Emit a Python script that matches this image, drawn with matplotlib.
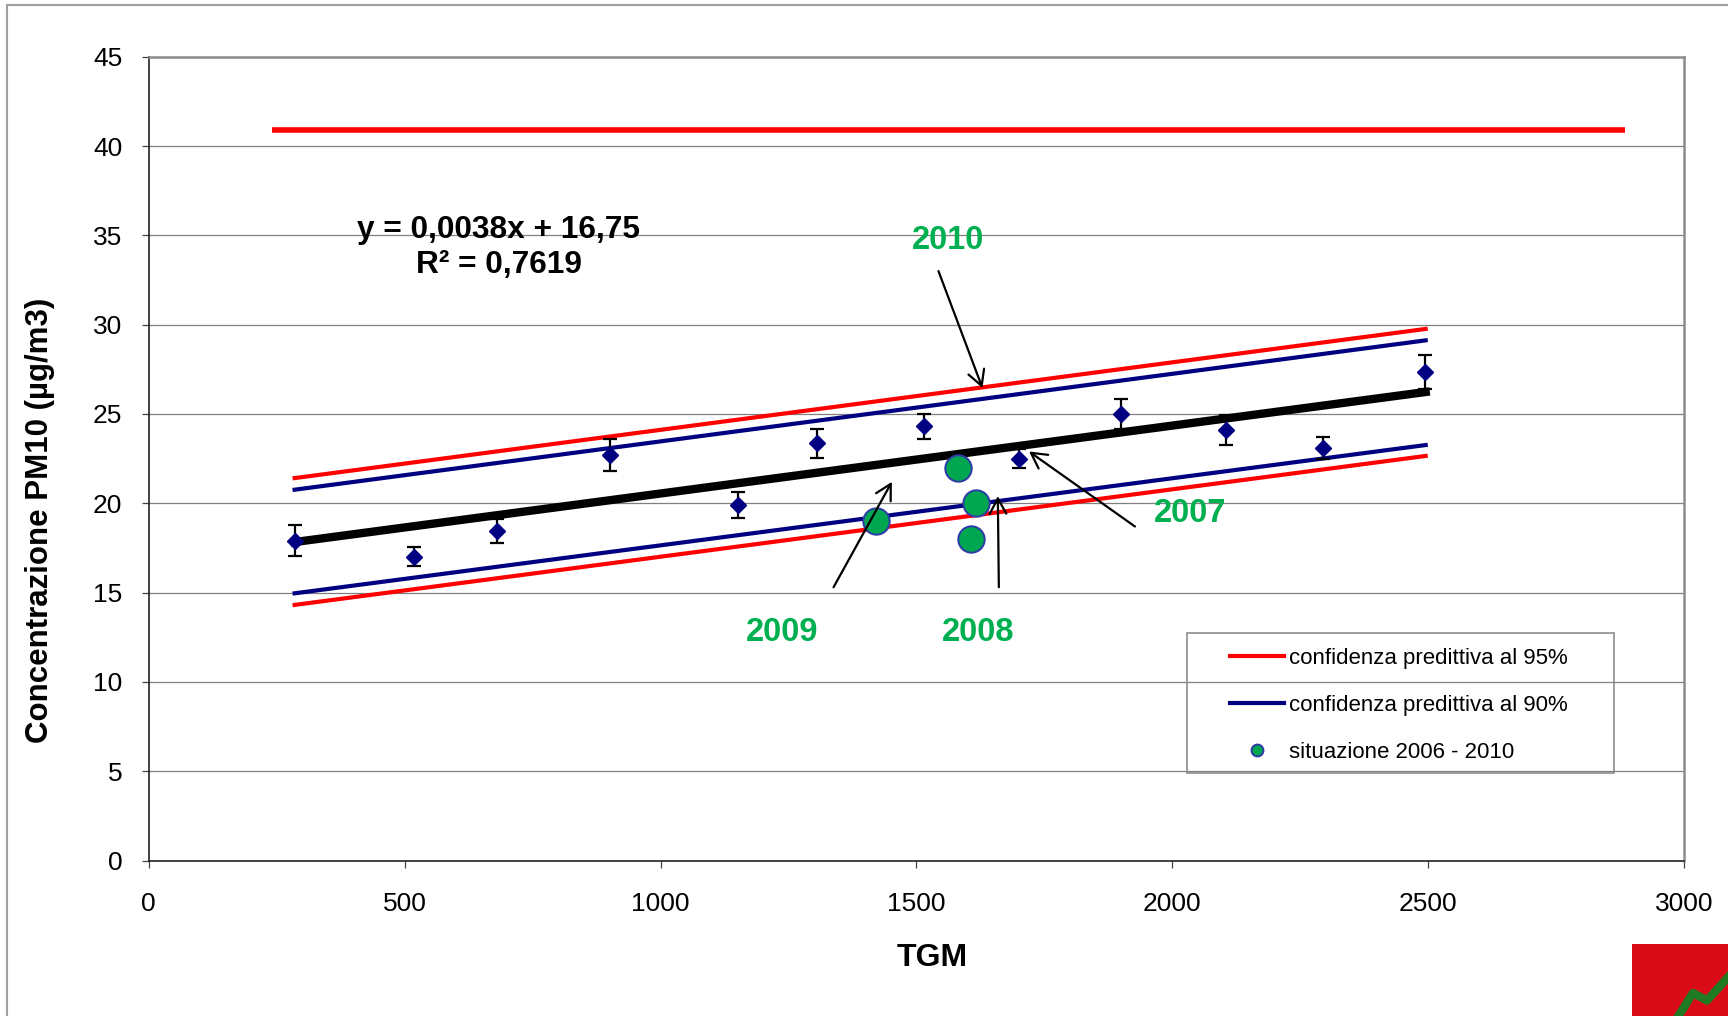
import matplotlib

matplotlib.use("Agg")

import matplotlib.pyplot as plt
from matplotlib.lines import Line2D
from matplotlib.patches import Rectangle

plt.rcParams["font.family"] = ["Liberation Sans", "DejaVu Sans"]

# measured PM10 vs TGM (diamonds with error bars)
tgm = [285, 518, 680, 901, 1152, 1305, 1515, 1701, 1900, 2104, 2294, 2493]
pm10 = [17.9, 17.0, 18.45, 22.7, 19.9, 23.35, 24.3, 22.5, 25.0, 24.1, 23.1, 27.35]
pm10_err = [0.86, 0.53, 0.68, 0.88, 0.72, 0.8, 0.7, 0.54, 0.86, 0.84, 0.6, 0.97]

# regression line and prediction bands (end points)
band_x = [285, 2495]
trend_y = [17.83, 26.23]
upper_95 = [21.41, 29.76]
upper_90 = [20.76, 29.12]
lower_90 = [14.96, 23.26]
lower_95 = [14.31, 22.65]

# limit line
limit_x = [241, 2885]
limit_y = [40.9, 40.9]

# situazione 2006 - 2010
situazione_x = [1420, 1582, 1616, 1606]
situazione_y = [19, 22, 20, 18]

# year annotations: label position, arrow start, arrow end
year_labels = ["2010", "2009", "2008", "2007"]
label_xy = [(1562, 34.7), (1237, 12.75), (1621, 12.75), (2035, 19.45)]
arrow_from = [(1543, 33.0), (1338, 15.3), (1661, 15.3), (1927, 18.7)]
arrow_to = [(1629, 26.45), (1452, 21.2), (1659, 20.4), (1720, 22.9)]

x_ticks = [0, 500, 1000, 1500, 2000, 2500, 3000]
y_ticks = [0, 5, 10, 15, 20, 25, 30, 35, 40, 45]

RED = "#ff0000"
NAVY = "#000080"
GREEN_TEXT = "#00b050"

fig = plt.figure(figsize=(17.28, 10.16), dpi=100)
ax = fig.add_axes([0.0861, 0.1530, 0.8885, 0.7912])

ax.set_xlim(0, 3000)
ax.set_ylim(0, 45)
ax.set_xticks(x_ticks)
ax.set_yticks(y_ticks)
ax.grid(True, axis="y", color="#808080", linewidth=0.9)
ax.set_axisbelow(True)

for side in ["top", "right"]:
    ax.spines[side].set_color("#8c8c8c")
    ax.spines[side].set_linewidth(1.8)
for side in ["left", "bottom"]:
    ax.spines[side].set_color("#222222")
    ax.spines[side].set_linewidth(1.2)

ax.tick_params(axis="both", direction="out", length=5, width=0.9, color="#444444", labelsize=19)
ax.tick_params(axis="y", pad=14)
ax.tick_params(axis="x", pad=18)

ax.plot(limit_x, limit_y, color=RED, linewidth=4, solid_capstyle="butt")
ax.plot(band_x, upper_95, color=RED, linewidth=3, label="confidenza predittiva al 95%")
ax.plot(band_x, lower_95, color=RED, linewidth=3)
ax.plot(band_x, upper_90, color=NAVY, linewidth=3, label="confidenza predittiva al 90%")
ax.plot(band_x, lower_90, color=NAVY, linewidth=3)
ax.plot(band_x, trend_y, color="black", linewidth=6)

ax.errorbar(tgm, pm10, yerr=pm10_err, fmt="D", color=NAVY, markersize=8,
            ecolor="black", elinewidth=1.6, capsize=5, capthick=1.6, zorder=4)

ax.plot(situazione_x, situazione_y, linestyle="none", marker="o", markersize=19,
        markerfacecolor="#00a650", markeredgecolor="#2e3aa8", markeredgewidth=1.4,
        label="situazione 2006 - 2010", zorder=5)

for text, pos, start, end in zip(year_labels, label_xy, arrow_from, arrow_to):
    ax.text(pos[0], pos[1], text, color=GREEN_TEXT, fontsize=23.5, fontweight="bold",
            ha="center", va="center")
    ax.annotate("", xy=end, xytext=start,
                arrowprops=dict(arrowstyle="->,head_length=0.55,head_width=0.3",
                                mutation_scale=20, color="black", lw=1.6,
                                shrinkA=0, shrinkB=0), zorder=6)

ax.text(684, 34.32, "y = 0,0038x + 16,75\nR² = 0,7619", fontsize=22.8, fontweight="bold",
        ha="center", va="center", multialignment="center", linespacing=1.25)

ax.set_xlabel("TGM", fontsize=23, fontweight="bold")
ax.xaxis.set_label_coords(0.51, -0.1213)
ax.xaxis.label.set_verticalalignment("center")
ax.set_ylabel("Concentrazione PM10 (µg/m3)", fontsize=22.5, fontweight="bold")
ax.yaxis.set_label_coords(-0.0708, 0.4236)
ax.yaxis.label.set_verticalalignment("center")

legend = ax.legend(loc="upper left", bbox_to_anchor=(1230 / 1728, 1 - 648 / 1016),
                   bbox_transform=fig.transFigure, frameon=False, fontsize=16,
                   borderpad=0, borderaxespad=0, handlelength=2.45, handletextpad=0.2,
                   labelspacing=1.17, markerscale=0.45)

# legend frame
fig.add_artist(Rectangle((1187 / 1728, 1 - 773 / 1016), 427 / 1728, 140.5 / 1016,
                         transform=fig.transFigure, facecolor="none",
                         edgecolor="#8c8c8c", linewidth=1.2, zorder=10))

# outer chart border
fig.add_artist(Rectangle((6.7 / 1728, -0.1), 1.2, 1.1 - 5 / 1016, transform=fig.transFigure,
                         facecolor="none", edgecolor="#a0a0a0", linewidth=1.5))

# corner logo
fig.add_artist(Rectangle((1632 / 1728, 0), 96 / 1728, 72 / 1016, transform=fig.transFigure,
                         facecolor="#d90b17", edgecolor="none"))
logo_x = [1672 / 1728, 1693 / 1728, 1707 / 1728, 1740 / 1728]
logo_y = [-0.01, 1 - 993 / 1016, 1 - 1000.5 / 1016, 1 - 964 / 1016]
fig.add_artist(Line2D(logo_x, logo_y, transform=fig.transFigure, color="#1f7a22",
                      linewidth=6, solid_joinstyle="round"))

fig.savefig("out.png", dpi=100)
